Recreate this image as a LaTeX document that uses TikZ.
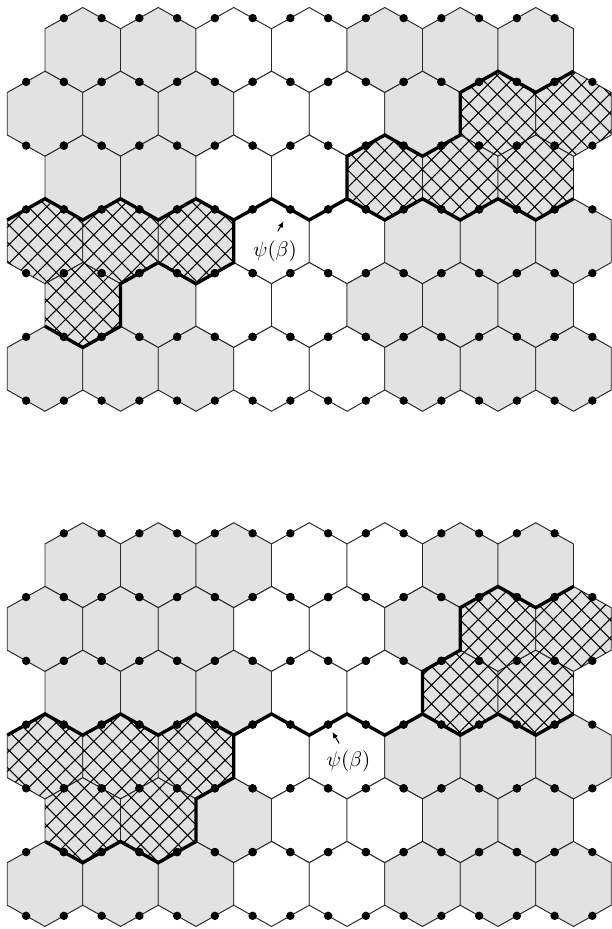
\documentclass[tikz,border=0pt]{standalone}
\usepackage{tikz}
\usetikzlibrary{arrows.meta,patterns.meta}

% one hexagon round the centre (#1,#2)
\newcommand{\hexat}[2]{({#1},{#2-42.5}) -- ({#1+37.75},{#2-21.25}) -- ({#1+37.75},{#2+21.25}) -- ({#1},{#2+42.5}) -- ({#1-37.75},{#2+21.25}) -- ({#1-37.75},{#2-21.25}) -- cycle}

% one row of cells: #1 row, #2 kinds (G grey, W white, H hatched)
\newcommand{\hexrow}[2]{%
  \pgfmathsetmacro{\rowy}{50+(#1-1)*63.75}%
  \pgfmathsetmacro{\rowx}{isodd(#1) ? 82.75 : 45}%
  \foreach \kind [count=\col from 0] in {#2} {%
    \path[cell\kind] \hexat{\rowx+\col*75.5}{\rowy};
  }%
}

% dots on the slanted edges of the whole lattice
\newcommand{\sitegrid}{%
  \foreach \r in {1,...,6} {%
    \pgfmathsetmacro{\rowy}{50+(\r-1)*63.75}%
    \pgfmathsetmacro{\rowx}{isodd(\r) ? 82.75 : 45}%
    \pgfmathtruncatemacro{\lastcol}{isodd(\r) ? 6 : 7}%
    \foreach \col in {0,...,\lastcol} {%
      \foreach \dx/\dy in {-18.875/-31.875, 18.875/-31.875, -18.875/31.875, 18.875/31.875}
        \fill[site] ({\rowx+\col*75.5+\dx},{\rowy+\dy}) circle[radius=2pt];
    }%
  }%
}

\begin{document}
\begin{tikzpicture}[
  x=0.0167cm, y=-0.0167cm,
  cellG/.style={fill=gray!23, draw=black!85, line width=0.45pt},
  cellW/.style={fill=white, draw=black!85, line width=0.45pt},
  cellH/.style={cellG, postaction={pattern={Hatch[angle=45,distance=6.3pt,line width=0.5pt]}}},
  bound/.style={draw, line width=1.6pt},
  site/.style={fill=black},
  ptr/.style={-{Latex[length=3pt,width=2.6pt]}, line width=0.5pt},
  lbl/.style={font=\normalsize}
]
\useasboundingbox (0,0) rectangle (611,929);

% upper lattice
\hexrow{1}{G,G,W,W,G,G,G}
\hexrow{2}{G,G,G,W,W,G,H,H}
\hexrow{3}{G,G,W,W,H,H,H}
\hexrow{4}{H,H,H,W,W,G,G,G}
\hexrow{5}{H,G,W,W,G,G,G}
\hexrow{6}{G,G,G,W,W,G,G,G}

\draw[bound] (7.25,220) -- (45,198.75) -- (82.75,220) -- (120.5,198.75) -- (158.25,220) -- (196,198.75) -- (233.75,220) -- (233.75,262.5) -- (196,283.75) -- (158.25,262.5) -- (120.5,283.75) -- (120.5,326.25) -- (82.75,347.5) -- (45,326.25);
\draw[bound] (233.75,220) -- (271.5,198.75) -- (309.25,220) -- (347,198.75) -- (347,156.25) -- (384.75,135) -- (422.5,156.25) -- (460.25,135) -- (460.25,92.5) -- (498,71.25) -- (535.75,92.5) -- (573.5,71.25);
\draw[bound] (347,198.75) -- (384.75,220) -- (422.5,198.75) -- (460.25,220) -- (498,198.75) -- (535.75,220) -- (573.5,198.75);

\sitegrid

\coordinate (betaup) at (290.4,209.4);
\node[lbl] (psiup) at (275,251.5) {$\psi(\beta)$};
\draw[ptr, shorten >=6.5pt] ([xshift=1.3pt,yshift=1pt]psiup.north) -- (betaup);

% lower lattice
\begin{scope}[shift={(0,515.2)}]
\hexrow{1}{G,G,G,W,W,G,G}
\hexrow{2}{G,G,G,W,W,G,H,H}
\hexrow{3}{G,G,G,W,W,H,H}
\hexrow{4}{H,H,H,W,W,G,G,G}
\hexrow{5}{H,H,G,W,W,G,G}
\hexrow{6}{G,G,G,W,W,G,G,G}

\draw[bound] (7.25,220) -- (45,198.75) -- (82.75,220) -- (120.5,198.75) -- (158.25,220) -- (196,198.75) -- (233.75,220) -- (233.75,262.5) -- (196,283.75) -- (196,326.25) -- (158.25,347.5) -- (120.5,326.25) -- (82.75,347.5) -- (45,326.25);
\draw[bound] (233.75,220) -- (271.5,198.75) -- (309.25,220) -- (347,198.75) -- (384.75,220) -- (422.5,198.75) -- (422.5,156.25) -- (460.25,135) -- (460.25,92.5) -- (498,71.25) -- (535.75,92.5) -- (573.5,71.25);
\draw[bound] (422.5,198.75) -- (460.25,220) -- (498,198.75) -- (535.75,220) -- (573.5,198.75);

\sitegrid

\coordinate (betadown) at (328.1,209.4);
\node[lbl] (psidown) at (348.5,246.3) {$\psi(\beta)$};
\draw[ptr, shorten >=4pt] ([xshift=-4.4pt]psidown.north) -- (betadown);
\end{scope}
\end{tikzpicture}
\end{document}
